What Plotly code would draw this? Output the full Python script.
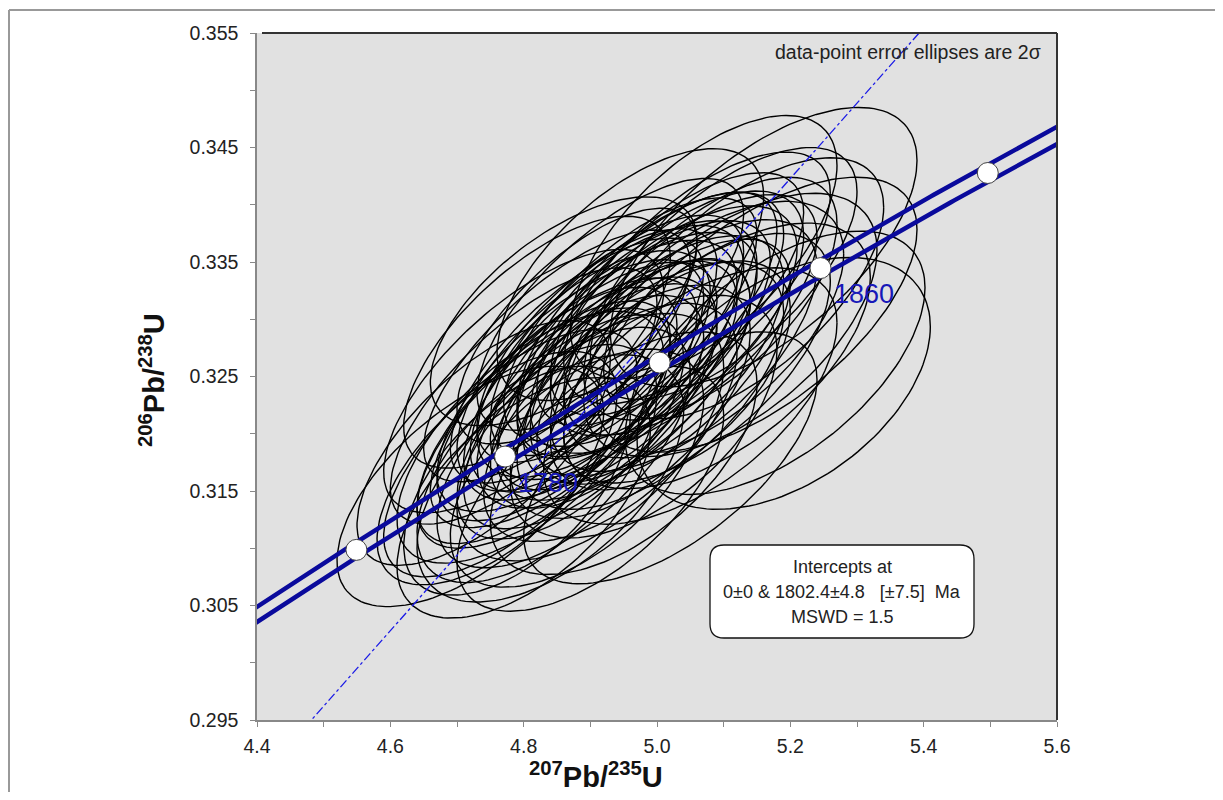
import numpy as np
import plotly.graph_objects as go

# ---------------- data ----------------
# error ellipses: centre 207Pb/235U, centre 206Pb/238U, 2s half-width x, 2s half-height y, error correlation
ell_x = [4.72, 4.82, 4.80, 4.86, 4.96, 5.16, 5.07, 5.177, 5.19, 5.02, 4.80, 4.90,
         4.76, 4.78, 4.79, 4.81, 4.82, 4.83, 4.84, 4.85, 4.86, 4.87, 4.87, 4.88, 4.89,
         4.90, 4.90, 4.91, 4.92, 4.92, 4.93, 4.94, 4.94, 4.95, 4.96, 4.96, 4.97, 4.98,
         4.99, 5.00, 5.00, 5.01, 5.02, 5.03, 5.04, 5.05, 5.06, 5.07, 5.08, 5.10, 5.11,
         5.13, 4.98, 5.05, 4.85, 4.80, 4.93, 4.74, 4.88, 5.09, 4.95, 5.15,
         4.89, 4.93, 4.97, 5.01, 4.86, 4.91, 4.95, 4.99, 5.03, 4.83, 4.88, 5.06]
ell_y = [0.3154, 0.3280, 0.3246, 0.3307, 0.3339, 0.3363, 0.3363, 0.3262, 0.3244, 0.3179, 0.3144, 0.3152,
         0.3170, 0.3183, 0.3159, 0.3197, 0.3174, 0.3210, 0.3161, 0.3226, 0.3188, 0.3242, 0.3206, 0.3264, 0.3219,
         0.3246, 0.3197, 0.3277, 0.3233, 0.3259, 0.3210, 0.3286, 0.3251, 0.3268, 0.3228, 0.3300, 0.3255, 0.3282,
         0.3242, 0.3309, 0.3268, 0.3291, 0.3251, 0.3322, 0.3277, 0.3304, 0.3336, 0.3291, 0.3318, 0.3340, 0.3295,
         0.3327, 0.3215, 0.3233, 0.3268, 0.3233, 0.3313, 0.3192, 0.3170, 0.3268, 0.3183, 0.3304,
         0.3255, 0.3272, 0.3283, 0.3263, 0.3227, 0.3236, 0.3247, 0.3300, 0.3305, 0.3205, 0.3294, 0.3266]
ell_ex = [0.20, 0.20, 0.21, 0.20, 0.20, 0.23, 0.20, 0.225, 0.22, 0.22, 0.19, 0.20,
          0.18, 0.19, 0.17, 0.20, 0.18, 0.19, 0.20, 0.18, 0.19, 0.20, 0.17, 0.19, 0.18,
          0.19, 0.20, 0.18, 0.17, 0.20, 0.19, 0.19, 0.18, 0.20, 0.18, 0.19, 0.17, 0.19,
          0.20, 0.18, 0.19, 0.20, 0.18, 0.19, 0.20, 0.19, 0.20, 0.21, 0.19, 0.20, 0.22,
          0.21, 0.20, 0.22, 0.20, 0.20, 0.20, 0.19, 0.19, 0.23, 0.20, 0.24,
          0.19, 0.20, 0.18, 0.19, 0.20, 0.18, 0.19, 0.20, 0.19, 0.19, 0.18, 0.20]
ell_ey = [0.0105, 0.0110, 0.0115, 0.0100, 0.0110, 0.0122, 0.0115, 0.0115, 0.0110, 0.0110, 0.0105, 0.0107,
          0.0102, 0.0108, 0.0100, 0.0110, 0.0104, 0.0106, 0.0108, 0.0102, 0.0105, 0.0110, 0.0098, 0.0107, 0.0102,
          0.0104, 0.0108, 0.0102, 0.0098, 0.0110, 0.0104, 0.0105, 0.0100, 0.0108, 0.0102, 0.0106, 0.0098, 0.0104,
          0.0108, 0.0102, 0.0105, 0.0108, 0.0100, 0.0106, 0.0110, 0.0105, 0.0110, 0.0112, 0.0106, 0.0110, 0.0115,
          0.0114, 0.0106, 0.0112, 0.0110, 0.0112, 0.0110, 0.0107, 0.0104, 0.0116, 0.0106, 0.0120,
          0.0105, 0.0110, 0.0103, 0.0107, 0.0109, 0.0101, 0.0105, 0.0111, 0.0107, 0.0105, 0.0103, 0.0109]
ell_rho = [0.62, 0.67, 0.69, 0.62, 0.62, 0.62, 0.62, 0.57, 0.45, 0.62, 0.57, 0.60,
           0.62, 0.67, 0.57, 0.65, 0.59, 0.69, 0.55, 0.67, 0.62, 0.70, 0.62, 0.72, 0.65,
           0.67, 0.57, 0.69, 0.62, 0.67, 0.59, 0.69, 0.65, 0.67, 0.59, 0.70, 0.62, 0.67,
           0.59, 0.67, 0.62, 0.65, 0.57, 0.67, 0.62, 0.65, 0.67, 0.59, 0.62, 0.65, 0.57,
           0.62, 0.55, 0.57, 0.73, 0.72, 0.71, 0.67, 0.57, 0.59, 0.57, 0.62,
           0.65, 0.67, 0.63, 0.65, 0.70, 0.62, 0.65, 0.67, 0.63, 0.67, 0.70, 0.62]

# concordia ages (Ma) marked, and the labelled ones
marker_ages = [1740, 1780, 1820, 1860, 1900]
label_ages = [1780, 1860]
upper_intercept_ma = 1802.4
x_ticks = [4.4, 4.6, 4.8, 5.0, 5.2, 5.4, 5.6]
y_ticks = [0.295, 0.305, 0.315, 0.325, 0.335, 0.345, 0.355]

intercept_lines = ["Intercepts at", "0±0 & 1802.4±4.8   [±7.5]  Ma", "MSWD = 1.5"]
note_text = "data-point error ellipses are 2σ"

# ---------------- constants ----------------
L238 = 1.55125e-10
L235 = 9.8485e-10

def conc(t_ma, k235=1.0):
    t = np.asarray(t_ma) * 1e6
    return np.exp(L235 * k235 * t) - 1.0, np.exp(L238 * t) - 1.0

# ---------------- layout geometry (screen pixels; page body has 8px margin) ----------------
OFF = 8
W, H = 1223 - 2 * OFF, 800 - 2 * OFF
PL, PR, PT, PB = 257, 1057, 33, 720   # plot area on screen

def px(xp):
    return (xp - PL) / (PR - PL)

def py(yp):
    return (PB - yp) / (PB - PT)

fig = go.Figure()

# ellipses
th = np.linspace(0, 2 * np.pi, 140)
ex_all, ey_all = [], []
for cx, cy, ex, ey, r in zip(ell_x, ell_y, ell_ex, ell_ey, ell_rho):
    xs = cx + ex * np.cos(th)
    ys = cy + ey * (r * np.cos(th) + np.sqrt(1 - r * r) * np.sin(th))
    ex_all += list(xs) + [None]
    ey_all += list(ys) + [None]
fig.add_trace(go.Scatter(x=ex_all, y=ey_all, mode="lines",
                         line=dict(color="black", width=1.4), hoverinfo="skip"))

# concordia band (decay-constant envelope)
tt = np.linspace(1650, 1960, 400)
for k in (1 - 0.0019, 1 + 0.0019):
    cxs, cys = conc(tt, k)
    fig.add_trace(go.Scatter(x=cxs, y=cys, mode="lines",
                             line=dict(color="#0A0A9C", width=4.5), hoverinfo="skip"))

# discordia through origin and upper intercept
ux, uy = conc([upper_intercept_ma])
slope = uy[0] / ux[0]
dxs = np.array([4.40, 5.60])
fig.add_trace(go.Scatter(x=dxs, y=slope * dxs, mode="lines",
                         line=dict(color="#1A1AE6", width=1.3, dash="dashdot"), hoverinfo="skip"))

# age markers
mx, my = conc(marker_ages)
fig.add_trace(go.Scatter(x=mx, y=my, mode="markers",
                         marker=dict(size=21, color="white", line=dict(color="#444", width=1)),
                         hoverinfo="skip"))

annotations = []
lx, ly = conc(label_ages)
for a, xx, yy in zip(label_ages, lx, ly):
    annotations.append(dict(x=xx, y=yy, xref="x", yref="y", text=str(a), showarrow=False,
                            xshift=43, yshift=-26,
                            font=dict(family="Liberation Sans", size=27, color="#1818B8")))

annotations.append(dict(x=px(1043), y=py(52), xref="paper", yref="paper", text=note_text,
                        showarrow=False, xanchor="right", yanchor="middle",
                        font=dict(family="Liberation Sans", size=19.5, color="#222")))

for i, line in enumerate(intercept_lines):
    annotations.append(dict(x=px(842), y=py(567 + 25 * i), xref="paper", yref="paper", text=line,
                            showarrow=False, xanchor="center", yanchor="middle",
                            font=dict(family="Liberation Sans", size=18, color="#222")))

annotations.append(dict(x=px(596), y=py(775), xref="paper", yref="paper",
                        text="<b><sup>207</sup>Pb/<sup>235</sup>U</b>", showarrow=False,
                        xanchor="center", yanchor="middle",
                        font=dict(family="Liberation Sans", size=29, color="#111")))
annotations.append(dict(x=px(152), y=py(380), xref="paper", yref="paper",
                        text="<b><sup>206</sup>Pb/<sup>238</sup>U</b>", showarrow=False,
                        textangle=-90, xanchor="center", yanchor="middle",
                        font=dict(family="Liberation Sans", size=29, color="#111")))

# rounded box path (paper coords)
bx0, bx1, by0, by1, rr = 710, 974, 545, 638, 14
def P(a, b):
    return f"{px(a):.5f},{py(b):.5f}"
path = (f"M {P(bx0+rr, by0)} L {P(bx1-rr, by0)} Q {P(bx1, by0)} {P(bx1, by0+rr)} "
        f"L {P(bx1, by1-rr)} Q {P(bx1, by1)} {P(bx1-rr, by1)} "
        f"L {P(bx0+rr, by1)} Q {P(bx0, by1)} {P(bx0, by1-rr)} "
        f"L {P(bx0, by0+rr)} Q {P(bx0, by0)} {P(bx0+rr, by0)} Z")

shapes = [
    dict(type="path", xref="paper", yref="paper", path=path, fillcolor="white",
         line=dict(color="#111", width=1.3), layer="above"),
    dict(type="line", xref="paper", yref="paper", x0=px(PL + 5), x1=1, y0=1, y1=1,
         line=dict(color="#333", width=2), layer="above"),
    dict(type="line", xref="paper", yref="paper", x0=1, x1=1, y0=0, y1=1,
         line=dict(color="#333", width=2), layer="above"),
    dict(type="line", xref="paper", yref="paper", x0=px(9), x1=px(1223), y0=py(10), y1=py(10),
         line=dict(color="#999", width=2)),
    dict(type="line", xref="paper", yref="paper", x0=px(9), x1=px(9), y0=py(10), y1=py(800),
         line=dict(color="#999", width=2)),
]

tickfont = dict(family="Liberation Sans", size=19.5, color="#222")
fig.update_layout(
    width=W, height=H,
    margin=dict(l=PL - OFF, r=W - (PR - OFF), t=PT - OFF, b=H - (PB - OFF), pad=0),
    plot_bgcolor="#E1E1E1", paper_bgcolor="white",
    showlegend=False,
    annotations=annotations, shapes=shapes,
    xaxis=dict(range=[4.4, 5.6], tickvals=x_ticks, ticktext=[f"{v:.1f}" for v in x_ticks],
               ticks="outside", ticklen=5, tickcolor="#888", tickwidth=1.2,
               showline=True, linecolor="#888", linewidth=1.5, showgrid=False, zeroline=False,
               minor=dict(dtick=0.1, tick0=4.4, ticks="outside", ticklen=5, tickcolor="#888",
                          tickwidth=1.2, showgrid=False),
               tickfont=tickfont, ticklabelstandoff=3),
    yaxis=dict(range=[0.295, 0.355], tickvals=y_ticks, ticktext=[f"{v:.3f}" for v in y_ticks],
               ticks="outside", ticklen=5, tickcolor="#888", tickwidth=1.2,
               showline=True, linecolor="#888", linewidth=1.5, showgrid=False, zeroline=False,
               minor=dict(dtick=0.005, tick0=0.295, ticks="outside", ticklen=5, tickcolor="#888",
                          tickwidth=1.2, showgrid=False),
               tickfont=tickfont, ticklabelstandoff=8),
)

fig.write_html("out.html")
